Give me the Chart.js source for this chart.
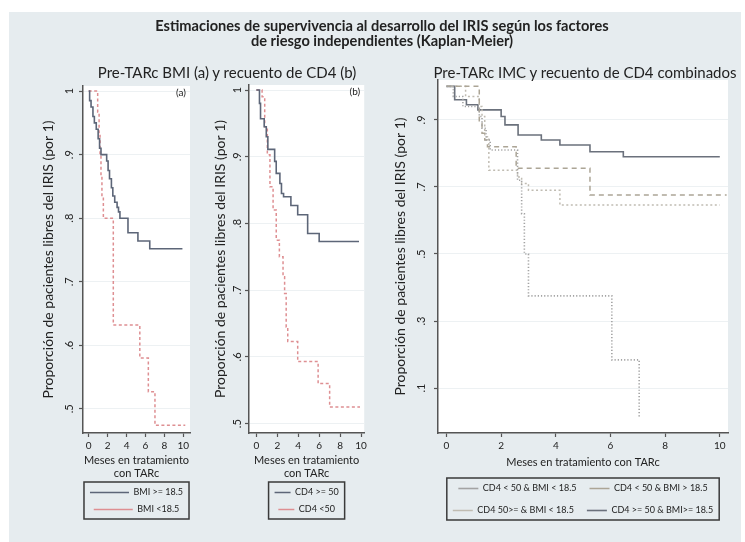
<!DOCTYPE html>
<html lang="es">
<head>
<meta charset="utf-8">
<title>Estimaciones de supervivencia al desarrollo del IRIS</title>
<script src="https://cdn.jsdelivr.net/npm/chart.js@4.4.1/dist/chart.umd.min.js"></script>
<style>
  body { margin: 0; width: 745px; height: 542px; position: relative; overflow: hidden; background: #fff;
         font-family: Lato, "Open Sans", sans-serif; color: #222; }
  .fondo { position: absolute; left: 9px; top: 12px; width: 732px; height: 530px; background: #e6ecef; }
  .titulo { position: absolute; left: 0; width: 764px; top: 19px; text-align: center; font-weight: bold;
            font-size: 14.6px; line-height: 14.5px; z-index: 2; }
  .sub { position: absolute; top: 63px; font-size: 15px; line-height: 18px; white-space: nowrap;
         transform: translateX(-50%); z-index: 2; }
  canvas { position: absolute; top: 0; z-index: 1; }
</style>
</head>
<body>
<div class="fondo"></div>
<div class="titulo">Estimaciones de supervivencia al desarrollo del IRIS según los factores<br>de riesgo independientes (Kaplan-Meier)</div>
<div class="sub" style="left:227px">Pre-TARc BMI (a) y recuento de CD4 (b)</div>
<div class="sub" style="left:585px">Pre-TARc IMC y recuento de CD4 combinados</div>
<canvas id="chartA" width="200" height="542" style="left:0"></canvas>
<canvas id="chartB" width="170" height="542" style="left:200px"></canvas>
<canvas id="chartC" width="373" height="542" style="left:372px"></canvas>
<script>
// ticks
const mesesTicks = [0, 2, 4, 6, 8, 10];
const ticksAB = [0.5, 0.6, 0.7, 0.8, 0.9, 1];
const ticksC = [0.1, 0.3, 0.5, 0.7, 0.9];

// (a) BMI
const mesesBmiAlto = [0, 0.1, 0.25, 0.45, 0.6, 0.8, 1.0, 1.15, 1.3, 1.9, 2.05, 2.2, 2.4, 2.55, 2.75, 3.0, 3.15, 3.3, 4.15, 5.2, 6.45, 9.9];
const libresBmiAlto = [1, 0.985, 0.975, 0.96, 0.95, 0.94, 0.925, 0.91, 0.9, 0.89, 0.875, 0.862, 0.848, 0.835, 0.825, 0.817, 0.81, 0.8, 0.777, 0.764, 0.752, 0.752];
const mesesBmiBajo = [0, 0.95, 1.1, 1.2, 1.3, 1.4, 1.55, 2.6, 5.4, 6.3, 7.0, 10.2];
const libresBmiBajo = [1, 0.967, 0.933, 0.9, 0.867, 0.833, 0.8, 0.632, 0.58, 0.527, 0.474, 0.474];

// (b) CD4
const mesesCd4Alto = [0, 0.3, 0.4, 0.75, 0.95, 1.1, 1.75, 1.9, 2.25, 2.4, 2.6, 3.3, 3.95, 4.9, 6.0, 9.8];
const libresCd4Alto = [1, 0.98, 0.957, 0.945, 0.93, 0.911, 0.893, 0.875, 0.86, 0.845, 0.84, 0.827, 0.813, 0.785, 0.773, 0.773];
const mesesCd4Bajo = [0, 0.55, 0.8, 1.05, 1.3, 1.6, 1.9, 2.2, 2.55, 2.7, 2.85, 3.0, 3.95, 5.9, 7.0, 9.9];
const libresCd4Bajo = [1, 0.99, 0.945, 0.903, 0.855, 0.82, 0.775, 0.75, 0.72, 0.695, 0.645, 0.623, 0.593, 0.56, 0.525, 0.525];

// combinados
const mesesBajoBajo = [0, 0.25, 0.6, 1.2, 1.3, 1.45, 1.6, 2.6, 2.75, 2.85, 3.0, 6.05, 7.05];
const libresBajoBajo = [1, 0.97, 0.94, 0.91, 0.875, 0.84, 0.81, 0.72, 0.62, 0.5, 0.375, 0.184, 0.01];
const mesesBajoAlto = [0, 1.2, 1.3, 1.4, 1.5, 2.55, 5.25, 10.25];
const libresBajoAlto = [1, 0.89, 0.86, 0.84, 0.82, 0.756, 0.676, 0.676];
const mesesAltoBajo = [0, 0.7, 1.2, 1.3, 1.4, 1.55, 2.6, 2.75, 3.0, 4.15, 10.0];
const libresAltoBajo = [1, 0.97, 0.94, 0.91, 0.85, 0.75, 0.73, 0.71, 0.69, 0.646, 0.646];
const mesesAltoAlto = [0, 0.3, 0.73, 1.15, 2.0, 2.14, 2.62, 3.47, 4.15, 5.25, 6.47, 10.0];
const libresAltoAlto = [1, 0.96, 0.945, 0.93, 0.91, 0.885, 0.855, 0.84, 0.825, 0.805, 0.79, 0.79];

Chart.defaults.font.family = 'Lato, "Open Sans", sans-serif';
Chart.defaults.color = '#222';

function km(label, meses, libres, color, dash, ancho) {
  return {
    label: label,
    data: meses.map((m, i) => ({ x: m, y: libres[i] })),
    stepped: true,
    borderColor: color,
    backgroundColor: color,
    borderDash: dash,
    borderWidth: ancho,
    pointRadius: 0,
    fill: false
  };
}

// white plot region
const fondoPlot = {
  id: 'fondoPlot',
  beforeDraw(chart) {
    const a = chart.chartArea, ctx = chart.ctx;
    ctx.save();
    ctx.fillStyle = '#ffffff';
    ctx.fillRect(a.left, a.top, a.right - a.left, a.bottom - a.top);
    ctx.restore();
  }
};

// frame around the legend
const marcoLeyenda = {
  id: 'marcoLeyenda',
  afterDraw(chart) {
    const cajas = chart.legend && chart.legend.legendHitBoxes;
    if (!cajas || !cajas.length) return;
    const l = Math.min(...cajas.map(b => b.left)) - 6;
    const r = Math.max(...cajas.map(b => b.left + b.width)) + 6;
    const t = Math.min(...cajas.map(b => b.top)) - 6;
    const b = Math.max(...cajas.map(c => c.top + c.height)) + 5;
    const ctx = chart.ctx;
    ctx.save();
    ctx.strokeStyle = '#3a3a3a';
    ctx.lineWidth = 1.5;
    ctx.strokeRect(l, t, r - l, b - t);
    ctx.restore();
  }
};

// "(a)" / "(b)"
const etiqueta = {
  id: 'etiqueta',
  afterDraw(chart, args, opts) {
    if (!opts.text) return;
    const ctx = chart.ctx, a = chart.chartArea;
    ctx.save();
    ctx.font = '10px Lato, "Open Sans", sans-serif';
    ctx.fillStyle = '#222';
    ctx.textAlign = 'right';
    ctx.textBaseline = 'middle';
    ctx.fillText(opts.text, a.right - 4, a.top + 7);
    ctx.restore();
  }
};

function etiquetaY(v) {
  return v === 1 ? '1' : v.toFixed(1).replace(/^0/, '');
}

function panel(id, datasets, o) {
  return new Chart(document.getElementById(id), {
    type: 'line',
    data: { datasets: datasets },
    options: {
      responsive: false,
      animation: false,
      layout: { padding: o.pad },
      plugins: {
        legend: {
          position: 'bottom',
          fullSize: false,
          labels: {
            usePointStyle: true,
            pointStyle: 'line',
            pointStyleWidth: o.muestra,
            boxHeight: 9,
            padding: o.sepLeyenda,
            color: '#222',
            font: { size: 9 }
          }
        },
        tooltip: { enabled: false },
        etiqueta: { text: o.etiqueta }
      },
      scales: {
        x: {
          type: 'linear',
          min: o.xMin,
          max: o.xMax,
          afterBuildTicks: s => { s.ticks = mesesTicks.map(v => ({ value: v })); },
          afterFit: s => { s.height = o.altoX; },
          ticks: { font: { size: 10 }, color: '#222', padding: 3, maxRotation: 0 },
          grid: { color: 'rgba(0,0,0,0)', tickColor: '#555', tickLength: 4, tickWidth: 1.2 },
          border: { color: '#555', width: 1.5 },
          title: { display: true, text: o.tituloX, font: { size: 11 }, color: '#222',
                   padding: { top: 0, bottom: o.padTituloX } }
        },
        y: {
          min: o.yMin,
          max: o.yMax,
          afterBuildTicks: s => { s.ticks = o.ticksY.map(v => ({ value: v })); },
          afterFit: s => { s.width = o.anchoY; },
          ticks: { font: { size: 11 }, color: '#222', minRotation: 90, maxRotation: 90,
                   crossAlign: 'center', padding: o.padTickY, callback: etiquetaY },
          grid: { color: '#edf1f3', tickColor: '#555', tickLength: 4, tickWidth: 1.2 },
          border: { color: '#555', width: 1.5 },
          title: { display: true, text: 'Proporción de pacientes libres del IRIS (por 1)',
                   font: { size: 14 }, color: '#222', padding: { top: o.padTituloY, bottom: 0 } }
        }
      }
    },
    plugins: [fondoPlot, marcoLeyenda, etiqueta]
  });
}

const rojo = '#de8f92';
const azul = '#5d6678';

panel('chartA', [
  km('BMI >= 18.5', mesesBmiAlto, libresBmiAlto, azul, [], 1.6),
  km('BMI <18.5', mesesBmiBajo, libresBmiBajo, rojo, [3, 2.5], 1.5)
], {
  pad: { left: 0, right: 10, top: 86, bottom: 18 },
  anchoY: 83, padTickY: 5, padTituloY: 39.6,
  xMin: -0.6, xMax: 10.7, yMin: 0.462, yMax: 1.008, ticksY: ticksAB,
  altoX: 47, padTituloX: 0, tituloX: ['Meses en tratamiento', 'con TARc'],
  muestra: 39, sepLeyenda: 8, etiqueta: '(a)'
});

panel('chartB', [
  km('CD4 >= 50', mesesCd4Alto, libresCd4Alto, azul, [], 1.6),
  km('CD4 <50', mesesCd4Bajo, libresCd4Bajo, rojo, [3, 2.5], 1.5)
], {
  pad: { left: 0, right: 5, top: 85, bottom: 18 },
  anchoY: 49, padTickY: 3, padTituloY: 11.6,
  xMin: -0.7, xMax: 10.3, yMin: 0.486, yMax: 1.0075, ticksY: ticksAB,
  altoX: 47, padTituloX: 0, tituloX: ['Meses en tratamiento', 'con TARc'],
  muestra: 16, sepLeyenda: 8, etiqueta: '(b)'
});

panel('chartC', [
  km('CD4 < 50 & BMI < 18.5', mesesBajoBajo, libresBajoBajo, '#a3a3a3', [1.2, 2], 1.6),
  km('CD4 < 50 & BMI > 18.5', mesesBajoAlto, libresBajoAlto, '#aca596', [5, 4], 1.5),
  km('CD4 50>= & BMI < 18.5', mesesAltoBajo, libresAltoBajo, '#c0bcb2', [2, 2.5], 1.5),
  km('CD4 >= 50 & BMI>= 18.5', mesesAltoAlto, libresAltoAlto, '#6b717c', [], 1.6)
], {
  pad: { left: 0, right: 17, top: 80, bottom: 17 },
  anchoY: 66, padTickY: 8, padTituloY: 19.6,
  xMin: -0.31, xMax: 10.3, yMin: -0.034, yMax: 1.019, ticksY: ticksC,
  altoX: 38, padTituloX: 2, tituloX: 'Meses en tratamiento con TARc',
  muestra: 20, sepLeyenda: 13, etiqueta: ''
});
</script>
</body>
</html>
